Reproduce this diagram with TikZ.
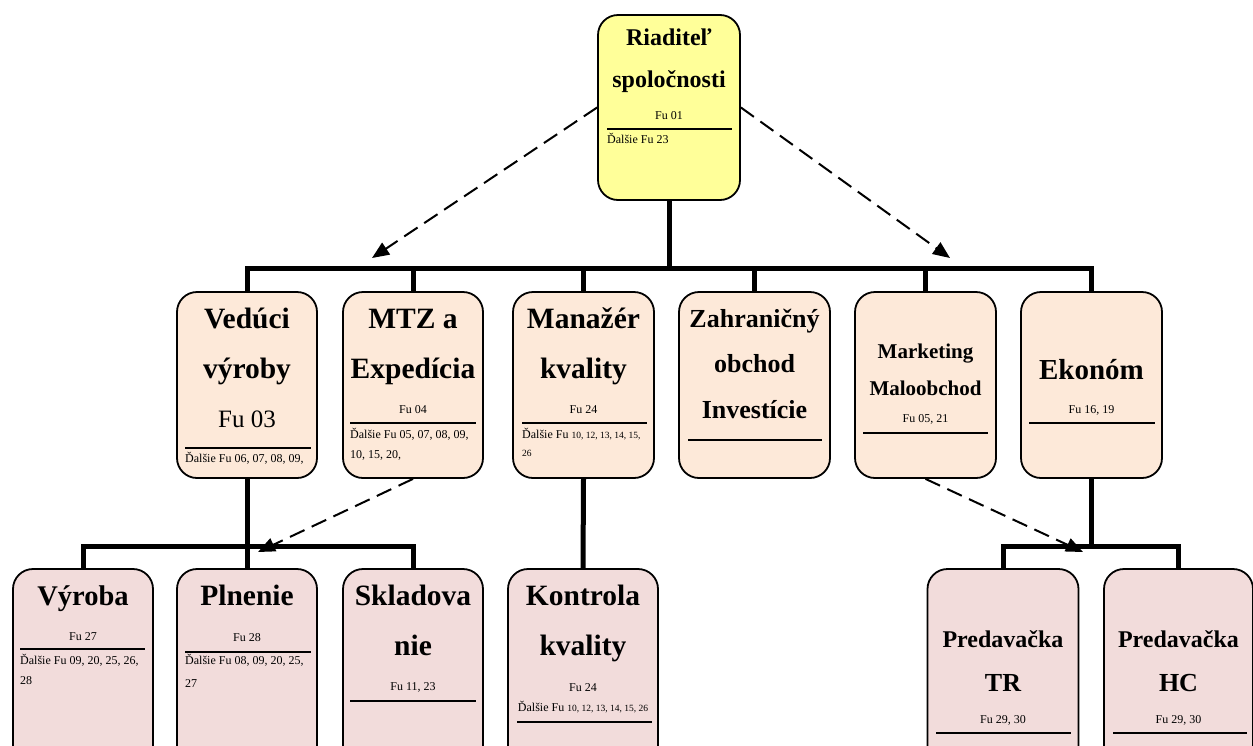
\documentclass[tikz,border=0pt]{standalone}
\usepackage{fontspec}
\setmainfont{Liberation Serif}
\usetikzlibrary{arrows.meta,calc}
\definecolor{cyel}{HTML}{FFFF99}
\definecolor{cpeach}{HTML}{FDE9D9}
\definecolor{cpink}{HTML}{F2DCDB}
\newcommand{\fsz}[1]{\fontsize{#1}{#1}\selectfont}
\begin{document}
\begin{tikzpicture}[x=1pt,y=-1pt,
 box/.style={draw, line width=1.8pt, rounded corners=20pt, inner sep=0pt},
 tree/.style={line width=5pt},
 sepline/.style={line width=2.4pt},
 darrow/.style={line width=2pt, dash pattern=on 16pt off 8pt, -{Triangle[length=17pt,width=14pt]}},
 txt/.style={inner sep=0pt, anchor=base},
 ltxt/.style={inner sep=0pt, anchor=base west},
 ttop/.style={txt, font=\fsz{24}\bfseries},
 tbig/.style={txt, font=\fsz{29.5}\bfseries},
 tmid/.style={txt, font=\fsz{26}\bfseries},
 tmark/.style={txt, font=\fsz{21}\bfseries},
 tpred/.style={txt, font=\fsz{24}\bfseries},
 tsm/.style={txt, font=\fsz{12}},
 lsm/.style={ltxt, font=\fsz{12}},
]
\useasboundingbox (0,0) rectangle (1253,745);
\clip (0,0) rectangle (1253,745);

% ---- boxes ----
\node[box, fill=cyel, minimum width=142pt, minimum height=185pt] (top) at (669,107.5) {};

\node[box, fill=cpeach, minimum width=140pt, minimum height=186pt] (ved) at (247,385) {};
\node[box, fill=cpeach, minimum width=140pt, minimum height=186pt] (mtz) at (413,385) {};
\node[box, fill=cpeach, minimum width=141pt, minimum height=186pt] (man) at (583.5,385) {};
\node[box, fill=cpeach, minimum width=151pt, minimum height=186pt] (zah) at (754.5,385) {};
\node[box, fill=cpeach, minimum width=141pt, minimum height=186pt] (mark) at (925.5,385) {};
\node[box, fill=cpeach, minimum width=141pt, minimum height=186pt] (ekon) at (1091.5,385) {};

\node[box, fill=cpink, minimum width=140pt, minimum height=200pt] (vyr) at (83,669) {};
\node[box, fill=cpink, minimum width=140pt, minimum height=200pt] (pln) at (247,669) {};
\node[box, fill=cpink, minimum width=140pt, minimum height=200pt] (skl) at (413,669) {};
\node[box, fill=cpink, minimum width=150pt, minimum height=200pt] (kon) at (583,669) {};
\node[box, fill=cpink, minimum width=151pt, minimum height=200pt] (tr) at (1003,669) {};
\node[box, fill=cpink, minimum width=149pt, minimum height=200pt] (hc) at (1178.5,669) {};

% ---- top texts ----
\node[ttop] (t1) at (669,45) {Riaditeľ};
\node[ttop] (t2) at (669,87) {spoločnosti};
\node[tsm] (t3) at (669,119) {Fu 01};
\draw[sepline] (607,129) -- (732,129);
\node[lsm] (t4) at (607,143) {Ďalšie Fu 23};

% ---- row 2 texts ----
\node[tbig] (v1) at (247,328) {Vedúci};
\node[tbig] (v2) at (247,378) {výroby};
\node[txt, font=\fsz{25}] (v3) at (247,427) {Fu 03};
\draw[sepline] (185,448) -- (311,448);
\node[lsm] (v4) at (185,462) {Ďalšie Fu 06, 07, 08, 09,};

\node[tbig] (m1) at (413,328) {MTZ a};
\node[tbig] (m2) at (413,378) {Expedícia};
\node[tsm] (m3) at (413,413) {Fu 04};
\draw[sepline] (350,423) -- (476,423);
\node[lsm] (m4) at (350,438) {Ďalšie Fu 05, 07, 08, 09,};
\node[lsm] (m5) at (350,458) {10, 15, 20,};

\node[tbig] (k1) at (583.5,328) {Manažér};
\node[tbig] (k2) at (583.5,378) {kvality};
\node[tsm] (k3) at (583.5,413) {Fu 24};
\draw[sepline] (522,423) -- (647,423);
\node[lsm] (k4) at (522,438) {Ďalšie Fu {\fsz{9.5}10, 12, 13, 14, 15,}};
\node[ltxt, font=\fsz{9.5}] (k5) at (522,456) {26};

\node[tmid] (z1) at (754.5,327) {Zahraničný};
\node[tmid] (z2) at (754.5,372) {obchod};
\node[tmid] (z3) at (754.5,418) {Investície};
\draw[sepline] (688,440) -- (822,440);

\node[tmark] (r1) at (925.5,358) {Marketing};
\node[tmark] (r2) at (925.5,395) {Maloobchod};
\node[tsm] (r3) at (925.5,422) {Fu 05, 21};
\draw[sepline] (863,433) -- (988,433);

\node[txt, font=\fsz{29}\bfseries] (e1) at (1091.5,379) {Ekonóm};
\node[tsm] (e2) at (1091.5,413) {Fu 16, 19};
\draw[sepline] (1029,423) -- (1155,423);

% ---- row 3 texts ----
\node[txt, font=\fsz{28.5}\bfseries] (y1) at (83,605) {Výroba};
\node[tsm] (y2) at (83,640) {Fu 27};
\draw[sepline] (20,649) -- (145,649);
\node[lsm] (y3) at (20,664) {Ďalšie Fu 09, 20, 25, 26,};
\node[lsm] (y4) at (20,684) {28};

\node[tbig] (p1) at (247,605) {Plnenie};
\node[tsm] (p2) at (247,641) {Fu 28};
\draw[sepline] (185,652) -- (311,652);
\node[lsm] (p3) at (185,664) {Ďalšie Fu 08, 09, 20, 25,};
\node[lsm] (p4) at (185,687) {27};

\node[tbig] (s1) at (413,605) {Skladova};
\node[tbig] (s2) at (413,655) {nie};
\node[tsm] (s3) at (413,690) {Fu 11, 23};
\draw[sepline] (350,701) -- (476,701);

\node[tbig] (c1) at (583,605) {Kontrola};
\node[tbig] (c2) at (583,655) {kvality};
\node[tsm] (c3) at (583,691) {Fu 24};
\node[tsm] (c4) at (583,711) {Ďalšie Fu {\fsz{9.5}10, 12, 13, 14, 15, 26}};
\draw[sepline] (517,722) -- (652,722);

\node[tpred] (h1) at (1003,647) {Predavačka};
\node[tmid] (h2) at (1003,691) {TR};
\node[tsm] (h3) at (1003,723) {Fu 29, 30};
\draw[sepline] (936,733) -- (1071,733);

\node[tpred] (g1) at (1178.5,647) {Predavačka};
\node[tmid] (g2) at (1178.5,691) {HC};
\node[tsm] (g3) at (1178.5,723) {Fu 29, 30};
\draw[sepline] (1113,733) -- (1247,733);

% ---- tree connectors ----
\coordinate (bar1) at (669,268);
\draw[tree] (top.south) -- (top.south |- bar1);
\draw[tree] (ved.north) -- (ved.north |- bar1) -- (ekon.north |- bar1) -- (ekon.north);
\foreach \n in {mtz,man,zah,mark}
  \draw[tree] (\n.north) -- (\n.north |- bar1);

\coordinate (bar2) at (248,546);
\draw[tree] (ved.south) -- (ved.south |- bar2);
\draw[tree] (vyr.north) -- (vyr.north |- bar2) -- (skl.north |- bar2) -- (skl.north);
\draw[tree] (pln.north) -- (pln.north |- bar2);

\draw[tree] (man.south) -- (kon.north);

\coordinate (bar3) at (1091.5,546);
\draw[tree] (ekon.south) -- (ekon.south |- bar3);
\draw[tree] (tr.north) -- (tr.north |- bar3) -- (hc.north |- bar3) -- (hc.north);

% ---- dashed arrows ----
\coordinate (a1) at (372,258);
\coordinate (a2) at (950,258);
\coordinate (a3) at (258,552);
\coordinate (a4) at (1083,552);
\draw[darrow] (top.west) -- (a1);
\draw[darrow] (top.east) -- (a2);
\draw[darrow] (mtz.south) -- (a3);
\draw[darrow] (mark.south) -- (a4);
\end{tikzpicture}
\end{document}
